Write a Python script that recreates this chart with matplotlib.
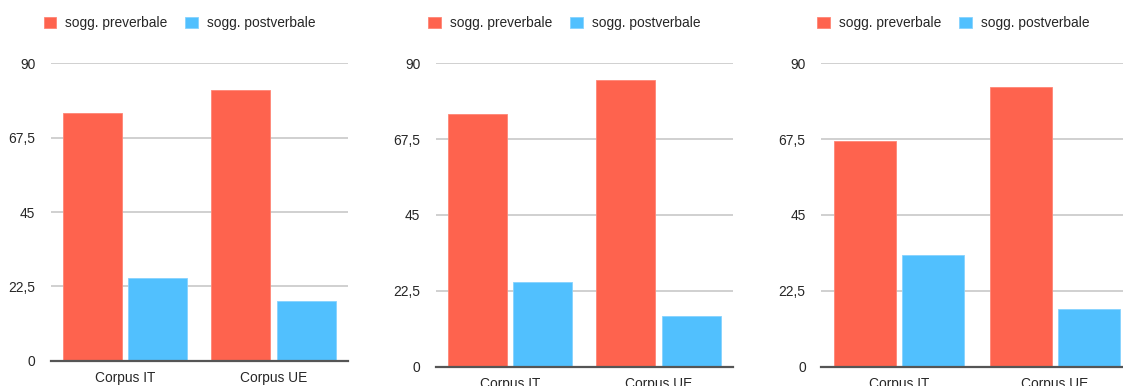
import matplotlib
matplotlib.use("Agg")
import matplotlib.pyplot as plt
from matplotlib.patches import Patch

plt.rcParams['font.family'] = ['Liberation Sans', 'DejaVu Sans']

categories = ["Corpus IT", "Corpus UE"]
series_names = ["sogg. preverbale", "sogg. postverbale"]

# three panels, each: preverbale / postverbale per corpus
panel1_pre = [75, 82]
panel1_post = [25, 18]
panel2_pre = [75, 85]
panel2_post = [25, 15]
panel3_pre = [67, 83]
panel3_post = [33, 17]

y_ticks = [0, 22.5, 45, 67.5, 90]
y_tick_labels = ["0", "22,5", "45", "67,5", "90"]

RED = "#fe634e"
BLUE = "#51c0fe"
TEXT = "#262626"

W, H = 1123, 386
fig = plt.figure(figsize=(W / 100, H / 100), dpi=100)

def px_rect(x0, x1, y_top, y_bot):
    return [x0 / W, 1 - y_bot / H, (x1 - x0) / W, (y_bot - y_top) / H]

panels = [
    (panel1_pre, panel1_post, px_rect(50.7, 347.7, 63.3, 360.7), 43.7),
    (panel2_pre, panel2_post, px_rect(435.7, 732.7, 63.3, 366.7), 428.3),
    (panel3_pre, panel3_post, px_rect(821.0, 1132.7, 63.3, 366.7), 817.3),
]

bar_w = 0.397
off = 0.2195
fs = 9.9

for pre, post, rect, leg_x in panels:
    ax = fig.add_axes(rect)
    xs = list(range(len(categories)))
    ax.bar([x - off for x in xs], pre, width=bar_w, color=RED,
           edgecolor="#ff8675", linewidth=0.6, zorder=3)
    ax.bar([x + off for x in xs], post, width=bar_w, color=BLUE,
           edgecolor="#86d3ff", linewidth=0.6, zorder=3)
    ax.set_xlim(-0.5, 1.5)
    ax.set_ylim(0, 90)
    ax.set_yticks(y_ticks)
    ax.set_yticklabels(y_tick_labels)
    ax.set_xticks(xs)
    ax.set_xticklabels(categories)
    for t in y_ticks[1:]:
        ax.axhline(t, color="#cdcdcd", linewidth=1.3, zorder=1)
    for s in ["top", "right", "left"]:
        ax.spines[s].set_visible(False)
    ax.spines["bottom"].set_color("#555555")
    ax.spines["bottom"].set_linewidth(1.6)
    ax.spines["bottom"].set_zorder(4)
    ax.tick_params(axis="y", length=0, pad=11, labelsize=fs, labelcolor=TEXT)
    ax.tick_params(axis="x", length=0, pad=7.5, labelsize=fs, labelcolor=TEXT)
    ax.patch.set_visible(False)

    handles = [Patch(facecolor=RED, edgecolor="#ff8675", linewidth=0.6),
               Patch(facecolor=BLUE, edgecolor="#86d3ff", linewidth=0.6)]
    fig.legend(handles, series_names, loc="center left",
               bbox_to_anchor=(leg_x / W, 1 - 23 / H), ncol=2,
               frameon=False, fontsize=fs, handlelength=0.91,
               handleheight=0.91, handletextpad=0.66, columnspacing=1.3,
               borderpad=0, borderaxespad=0, labelcolor=TEXT)

fig.savefig("out.png", dpi=100)
